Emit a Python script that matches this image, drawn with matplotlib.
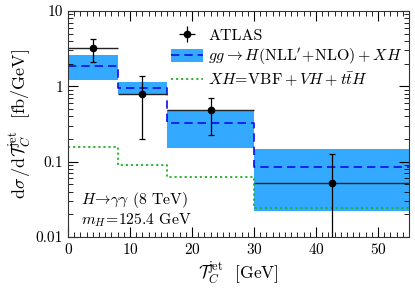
import numpy as np
import matplotlib
matplotlib.use("Agg")
import matplotlib.pyplot as plt
from matplotlib.ticker import MultipleLocator, FixedLocator, FixedFormatter, NullFormatter
from matplotlib.patches import Patch
from matplotlib.lines import Line2D

plt.rcParams["font.family"] = "serif"
plt.rcParams["font.serif"] = ["cmr10"]
plt.rcParams["mathtext.fontset"] = "cm"
plt.rcParams["axes.formatter.use_mathtext"] = True

# bin edges in T_C^jet [GeV]
bin_edges = [0, 8, 16, 30, 55]

# ATLAS data
atlas_x = [4.0, 12.0, 23.0, 42.5]
atlas_y = [3.2, 0.80, 0.48, 0.052]
atlas_up = [4.25, 1.37, 0.70, 0.128]
atlas_lo = [2.1, 0.20, 0.223, 0.001]

# gg -> H (NLL'+NLO) + XH prediction
theory_central = [1.88, 0.96, 0.326, 0.085]
theory_up = [2.58, 1.13, 0.48, 0.149]
theory_lo = [1.20, 0.78, 0.151, 0.0222]

# XH = VBF + VH + ttH
xh = [0.156, 0.091, 0.0625, 0.024]

band_col = "#33aaff"
line_col = "#0a0af0"
green_col = "#22b022"
dash = (0, (5, 3))
dots = (0, (1.2, 1.6))

fig = plt.figure(figsize=(4.15, 2.88), dpi=100)
ax = fig.add_axes([0.164, 0.177, 0.8215, 0.785])

edges = np.array(bin_edges)
def step(vals):
    return np.append(vals, vals[-1])

ax.fill_between(edges, step(theory_lo), step(theory_up), step="post",
                color=band_col, lw=0, zorder=1)
ax.step(edges, step(theory_central), where="post", color=line_col,
        ls=dash, lw=1.2, zorder=2)
ax.step(edges, step(xh), where="post", color=green_col,
        ls=dots, lw=1.3, zorder=2)

xerr_lo = [atlas_x[i] - bin_edges[i] for i in range(4)]
xerr_hi = [bin_edges[i + 1] - atlas_x[i] for i in range(4)]
yerr_lo = [atlas_y[i] - atlas_lo[i] for i in range(4)]
yerr_hi = [atlas_up[i] - atlas_y[i] for i in range(4)]
ax.errorbar(atlas_x, atlas_y, xerr=[xerr_lo, xerr_hi], fmt="none",
            color="#222222", lw=1.0, capsize=0, zorder=3)
ax.errorbar(atlas_x, atlas_y, yerr=[yerr_lo, yerr_hi], fmt="o",
            color="black", ms=4.5, lw=0.9, capsize=2, capthick=0.9, zorder=3)

ax.set_yscale("log")
ax.set_xlim(0, 55)
ax.set_ylim(0.01, 10)

ax.xaxis.set_major_locator(MultipleLocator(10))
ax.xaxis.set_minor_locator(MultipleLocator(1))
ax.yaxis.set_major_locator(FixedLocator([0.01, 0.1, 1, 10]))
ax.yaxis.set_major_formatter(FixedFormatter(["0.01", "0.1", "1", "10"]))
ax.yaxis.set_minor_formatter(NullFormatter())
ax.tick_params(which="both", direction="in", top=True, right=True, labelsize=11)
ax.tick_params(which="major", length=7, width=0.8)
ax.tick_params(which="minor", length=3.5, width=0.6)
for s in ax.spines.values():
    s.set_linewidth(0.8)
    s.set_color("#333333")

ax.set_xlabel(r"$\mathcal{T}_C^{\rm jet}$  [GeV]", fontsize=12.5, labelpad=2)
ax.set_ylabel(r"$\mathrm{d}\sigma\,/\mathrm{d}\mathcal{T}_C^{\rm jet}$  [fb/GeV]",
              fontsize=13, labelpad=1)

ax.text(2.1, 0.0275, r"$H\!\to\!\gamma\gamma$ (8 TeV)", fontsize=11.3)
ax.text(2.1, 0.0146, r"$m_H\!=\!125.4$ GeV", fontsize=11.3)

h_atlas = ax.errorbar([], [], xerr=[1], yerr=[1], fmt="o", color="black",
                      ms=4.5, lw=0.9, capsize=2)
h_band = (Patch(color=band_col, lw=0),
          Line2D([], [], color=line_col, ls=dash, lw=1.2))
h_xh = Line2D([], [], color=green_col, ls=dots, lw=1.3)
ax.legend([h_atlas, h_band, h_xh],
          ["ATLAS",
           r"$gg\to H(\mathrm{NLL}'\!+\!\mathrm{NLO})+XH$",
           r"$XH\!=\!\mathrm{VBF}+VH+t\bar{t}H$"],
          loc="upper right", bbox_to_anchor=(1.005, 0.96), frameon=False,
          fontsize=11.5, handlelength=2.0, handleheight=0.85, handletextpad=0.35,
          labelspacing=0.2, borderaxespad=0.1)

fig.savefig("out.png", dpi=100)
